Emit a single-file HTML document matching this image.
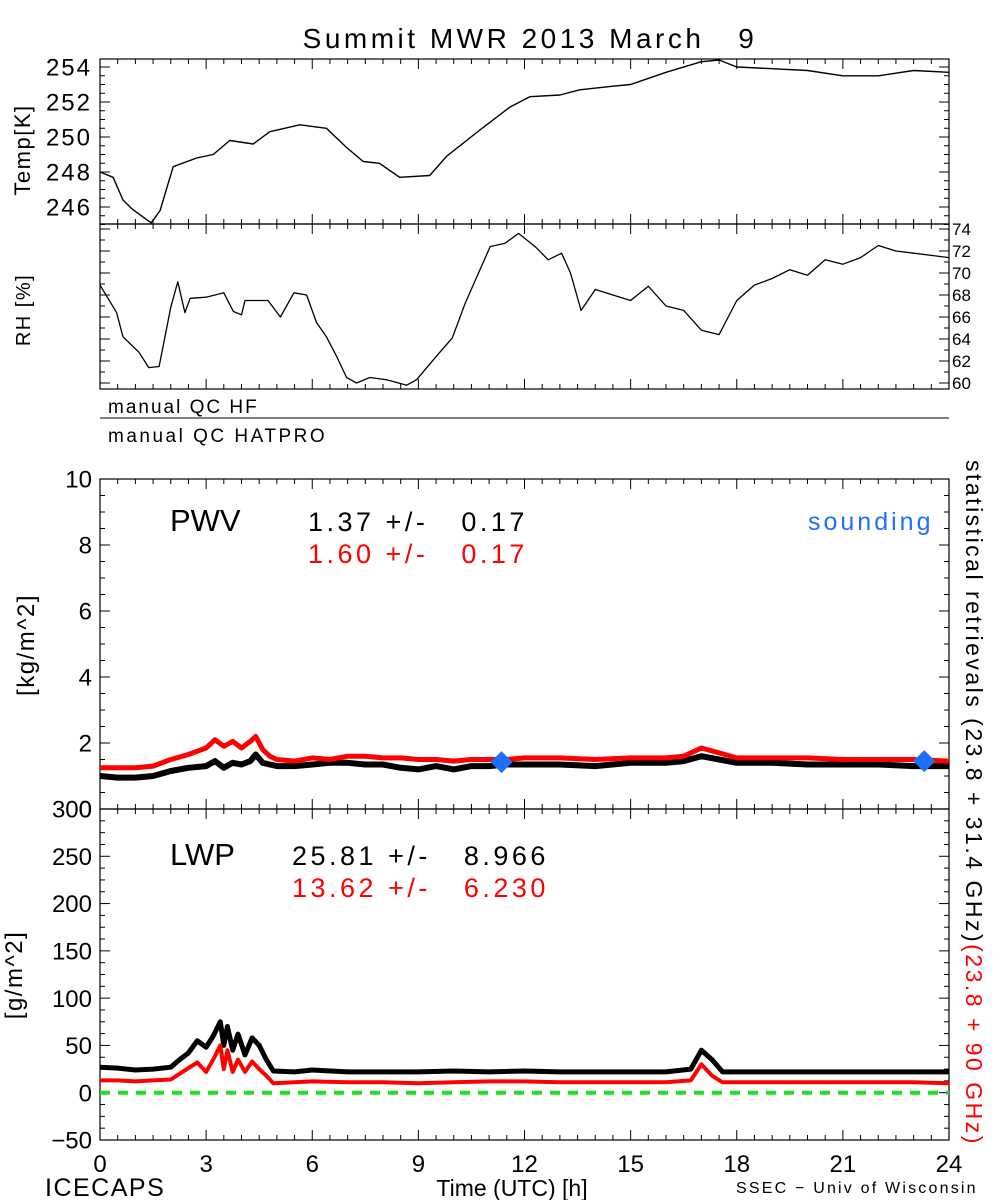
<!DOCTYPE html>
<html><head><meta charset="utf-8"><style>
html,body{margin:0;padding:0;background:#fff;}
svg{display:block;font-family:"Liberation Sans",sans-serif;}
text{white-space:pre;}
</style></head><body>
<svg id="chart" width="1000" height="1200" viewBox="0 0 1000 1200" xmlns="http://www.w3.org/2000/svg">
<text x="530" y="48" font-size="28" letter-spacing="3.5" text-anchor="middle">Summit MWR 2013 March   9</text>
<g id="axes"></g>
<g id="marks"></g>
<text transform="translate(30,150) rotate(-90)" font-size="22" letter-spacing="1.5" text-anchor="middle">Temp[K]</text>
<text transform="translate(30,310) rotate(-90)" font-size="20" letter-spacing="1.5" text-anchor="middle">RH [%]</text>
<text x="108" y="413" font-size="19" letter-spacing="2">manual QC HF</text>
<line x1="100" y1="418" x2="949" y2="418" stroke="#000" stroke-width="1"/>
<text x="108" y="442" font-size="19" letter-spacing="2.5">manual QC HATPRO</text>
<text transform="translate(34,645) rotate(-90)" font-size="24" letter-spacing="1.5" text-anchor="middle">[kg/m^2]</text>
<text transform="translate(22,975) rotate(-90)" font-size="24" letter-spacing="1.5" text-anchor="middle">[g/m^2]</text>
<text x="170" y="531" font-size="31">PWV</text>
<text x="308" y="531" font-size="27" letter-spacing="3.5">1.37 +/-   0.17</text>
<text x="308" y="563" font-size="27" letter-spacing="3.5" fill="#ff0000">1.60 +/-   0.17</text>
<text x="808" y="530" font-size="25" letter-spacing="3" fill="#1f6fff">sounding</text>
<text x="170" y="865" font-size="31">LWP</text>
<text x="292" y="865" font-size="27" letter-spacing="3.5">25.81 +/-   8.966</text>
<text x="292" y="897" font-size="27" letter-spacing="3.5" fill="#ff0000">13.62 +/-   6.230</text>
<text transform="translate(966,460) rotate(90)" font-size="23" letter-spacing="2.5"><tspan>statistical retrievals (23.8 + 31.4 GHz)</tspan><tspan fill="#ff0000">(23.8 + 90 GHz)</tspan></text>
<text x="45" y="1196" font-size="25" letter-spacing="1.5">ICECAPS</text>
<text x="512" y="1196" font-size="23" text-anchor="middle">Time (UTC) [h]</text>
<text x="736" y="1193" font-size="16" letter-spacing="2.2">SSEC − Univ of Wisconsin</text>
</svg>
<script>
// ---- data ----
const tempT=[0,0.37,0.65,0.9,1.3,1.45,1.7,2.07,2.73,3.2,3.67,4.33,4.8,5.65,6.4,6.97,7.44,7.9,8.47,9.32,9.8,10.74,11.58,12.15,13.0,13.56,14.5,15,16,17,17.5,18,19,20,21,22,23,24];
const tempV=[248.0,247.7,246.4,245.9,245.3,245.1,245.8,248.3,248.8,249.0,249.8,249.6,250.3,250.7,250.5,249.4,248.6,248.5,247.7,247.8,248.9,250.4,251.7,252.3,252.4,252.7,252.9,253.0,253.7,254.3,254.4,254.0,253.9,253.8,253.5,253.5,253.8,253.7];
const rhT=[0,0.47,0.65,1.1,1.38,1.67,2.0,2.2,2.4,2.55,3.0,3.5,3.77,4.0,4.1,4.75,5.1,5.48,5.84,6.12,6.4,6.69,6.97,7.25,7.63,8.1,8.67,8.95,9.5,9.96,10.33,10.7,11.03,11.45,11.83,12.3,12.67,13.05,13.3,13.6,14,14.5,15,15.5,16,16.5,17,17.5,18,18.5,19,19.5,20,20.5,21,21.5,22,22.5,23,23.5,24];
const rhV=[68.9,66.4,64.2,62.8,61.4,61.5,66.9,69.2,66.4,67.7,67.8,68.2,66.5,66.2,67.5,67.5,66.0,68.2,68.0,65.5,64.2,62.4,60.5,60.0,60.5,60.3,59.8,60.3,62.4,64.1,67.3,70.0,72.4,72.7,73.6,72.4,71.2,71.8,70.0,66.6,68.5,68.0,67.5,68.8,67.0,66.6,64.8,64.4,67.5,68.9,69.5,70.3,69.8,71.2,70.8,71.4,72.5,72.0,71.8,71.6,71.4];
const pwvT=[0,0.5,1,1.5,2,2.5,3,3.25,3.5,3.75,4,4.25,4.4,4.6,4.8,5,5.5,6,6.5,7,7.5,8,8.5,9,9.5,10,10.5,11,11.5,12,13,14,15,16,16.5,17,17.5,18,19,20,21,22,23,24];
const pwvBlack=[1.0,0.95,0.95,1.0,1.15,1.25,1.3,1.45,1.25,1.4,1.35,1.45,1.65,1.4,1.35,1.3,1.3,1.35,1.4,1.4,1.35,1.35,1.25,1.2,1.3,1.2,1.3,1.3,1.35,1.35,1.35,1.3,1.4,1.4,1.45,1.6,1.5,1.4,1.4,1.35,1.35,1.35,1.3,1.3];
const pwvRed=[1.25,1.25,1.25,1.3,1.5,1.65,1.85,2.1,1.9,2.05,1.85,2.05,2.2,1.8,1.6,1.5,1.45,1.55,1.5,1.6,1.6,1.55,1.55,1.5,1.5,1.45,1.5,1.5,1.5,1.55,1.55,1.5,1.55,1.55,1.6,1.85,1.7,1.55,1.55,1.55,1.5,1.5,1.5,1.45];
const lwpT=[0,0.5,1,1.5,2,2.25,2.5,2.75,3,3.2,3.4,3.5,3.6,3.75,3.9,4.1,4.3,4.5,4.7,4.9,5.5,6,7,8,9,10,11,12,13,14,15,16,16.7,17,17.3,17.6,18,19,20,21,22,23,24];
const lwpBlack=[27,26,24,25,27,35,42,55,48,60,75,50,70,45,62,40,58,50,35,23,22,24,22,22,22,23,22,23,22,22,22,22,25,45,35,22,22,22,22,22,22,22,22];
const lwpRed=[13,13,12,13,14,20,26,32,22,35,50,25,45,22,35,22,33,25,18,10,11,12,11,11,10,11,12,12,11,11,11,11,13,30,18,11,11,11,11,11,11,11,10];
const soundT=[11.35,23.3];
const soundV=[1.42,1.45];
const xTicks=[0,3,6,9,12,15,18,21,24];
const tempTicks=[246,248,250,252,254];
const rhTicks=[60,62,64,66,68,70,72,74];
const pwvTicks=[0,2,4,6,8,10];
const lwpTicks=[-50,0,50,100,150,200,250,300];

// ---- scales ----
const X0=100,X1=949;
const xs=t=>X0+(X1-X0)*t/24;
const lin=(d0,d1,r0,r1)=>v=>r0+(v-d0)*(r1-r0)/(d1-d0);
const P={
 temp:{top:59,bot:224,y:lin(246,254,207,67)},
 rh:{top:224,bot:389,y:lin(60,74,383,229)},
 pwv:{top:479,bot:809,y:lin(0,10,809,479)},
 lwp:{top:809,bot:1140,y:lin(-50,300,1140,809)}
};
const NS="http://www.w3.org/2000/svg";
const axes=document.getElementById('axes'),marks=document.getElementById('marks');
function mk(tag,attrs,parent){const e=document.createElementNS(NS,tag);for(const k in attrs)e.setAttribute(k,attrs[k]);parent.appendChild(e);return e;}

for(const key of ['temp','rh','pwv','lwp']){
 const p=P[key];
 const r=mk('rect',{x:X0,y:p.top,width:X1-X0,height:p.bot-p.top,fill:'none',stroke:'#000','stroke-width':1.2},axes);
 
 
 for(let t=0;t<=24;t+=0.5){
  const maj=(t%3===0), L=maj?10:5;
  mk('line',{x1:xs(t),x2:xs(t),y1:p.bot,y2:p.bot-L,stroke:'#000'},axes);
  mk('line',{x1:xs(t),x2:xs(t),y1:p.top,y2:p.top+L,stroke:'#000'},axes);
 }
}
xTicks.forEach(t=>{
 const tx=mk('text',{x:xs(t),y:1172,'font-size':24,'text-anchor':'middle'},axes);
 tx.textContent=t;
 
 
});
function yTicks(key,ticks,minorStep,side,fs,ls){
 const p=P[key];
 const lo=ticks[0]-(ticks[1]-ticks[0]),hi=ticks[ticks.length-1]+(ticks[1]-ticks[0]);
 for(let v=lo;v<=hi+1e-9;v+=minorStep){
  const y=p.y(v); if(y<p.top-0.5||y>p.bot+0.5)continue;
  const maj=ticks.some(tv=>Math.abs(tv-v)<1e-6), L=maj?10:5;
  mk('line',{x1:X0,x2:X0+L,y1:y,y2:y,stroke:'#000'},axes);
  mk('line',{x1:X1,x2:X1-L,y1:y,y2:y,stroke:'#000'},axes);
 }
 ticks.forEach(v=>{
  const y=p.y(v);
  const tx=mk('text',side==='left'?{x:92,y:y+fs*0.36,'font-size':fs,'text-anchor':'end','letter-spacing':ls}:{x:952,y:y+fs*0.36,'font-size':fs},axes);
  tx.textContent=v<0?'−'+Math.abs(v):v;
  
  
 });
}
yTicks('temp',tempTicks,0.5,'left',24,2);
yTicks('rh',rhTicks,1,'right',17,0);
yTicks('pwv',pwvTicks,0.5,'left',24,0);
yTicks('lwp',lwpTicks,12.5,'left',24,0);

function line(key,T,V,color,w,name){
 const p=P[key];
 const d=T.map((t,i)=>(i?'L':'M')+xs(t).toFixed(1)+' '+p.y(V[i]).toFixed(1)).join(' ');
 const e=mk('path',{d:d,fill:'none',stroke:color,'stroke-width':w,'stroke-linejoin':'round'},marks);
 
 
}
line('temp',tempT,tempV,'#000',1.4,'temperature-line');
line('rh',rhT,rhV,'#000',1.3,'rh-line');
line('pwv',pwvT,pwvBlack,'#000',6,'pwv-black-series');
line('pwv',pwvT,pwvRed,'#ff0000',5,'pwv-red-series');
const z=mk('line',{x1:X0,x2:X1,y1:P.lwp.y(0),y2:P.lwp.y(0),stroke:'#22dd22','stroke-width':4,'stroke-dasharray':'10 8'},marks);


line('lwp',lwpT,lwpBlack,'#000',5,'lwp-black-series');
line('lwp',lwpT,lwpRed,'#ff0000',4,'lwp-red-series');
soundT.forEach((t,i)=>{
 const x=xs(t),y=P.pwv.y(soundV[i]),s=11;
 const d=mk('polygon',{points:`${x},${y-s} ${x+s},${y} ${x},${y+s} ${x-s},${y}`,fill:'#1f6fff'},marks);
 
 
});
</script>
</body></html>
